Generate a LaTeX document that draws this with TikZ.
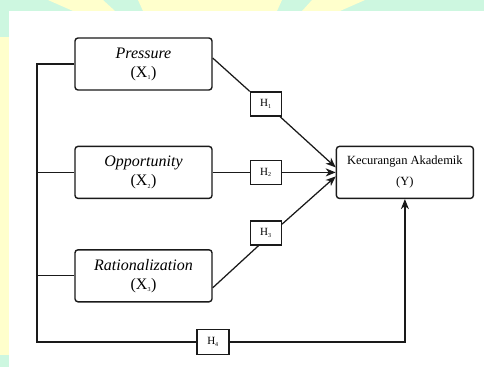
\documentclass[tikz,border=0pt]{standalone}
\usepackage{fontspec}
\setmainfont{Liberation Serif}
\usetikzlibrary{arrows.meta,positioning}
\definecolor{bgmint}{HTML}{CDF7E0}
\definecolor{bgyellow}{HTML}{FFFFCC}
\definecolor{kline}{HTML}{1A1A1A}
\newcommand{\ix}[1]{\textsubscript{\fontsize{6}{6}\selectfont #1}}

\begin{document}
\begin{tikzpicture}[
        x=1pt, y=-1pt,
        var/.style={draw=kline, line width=1.4pt, rounded corners=3pt, fill=white,
                    align=center, minimum width=137pt, minimum height=52pt,
                    inner sep=0pt, font=\fontsize{16}{19}\selectfont},
        dep/.style={var, font=\fontsize{12.5}{21}\selectfont},
        hyp/.style={draw=kline, line width=1.4pt, fill=white, minimum width=31pt,
                    minimum height=24pt, inner sep=0pt, font=\fontsize{11}{13}\selectfont},
        link/.style={kline, line width=1.25pt},
        arr/.style={link, -{Stealth[length=10pt,width=8pt,inset=3pt]}}
    ]
        % page background
        \useasboundingbox (0,0) rectangle (484,367);
        \fill[bgmint] (0,0) rectangle (484,367);
        \fill[bgyellow] (48,0) -- (103,0) -- (115,11) -- (73,11) -- cycle;
        \fill[bgyellow] (138,0) -- (282,0) -- (277,11) -- (143,11) -- cycle;
        \fill[bgyellow] (312,0) -- (365,0) -- (340,11) -- (302,11) -- cycle;
        \fill[bgyellow] (0,37) rectangle (9,355);
        \fill[white] (9,11) rectangle (484,367);

        \node[var] (pres) at (143.5,64) {\textit{Pressure}\\(X\ix{1})};
        \node[var, below=55pt of pres] (opp) {\textit{Opportunity}\\(X\ix{2})};
        \node[var, below=50pt of opp] (rat) {\textit{Rationalization}\\(X\ix{3})};
        \node[dep, right=123pt of opp] (kec) {Kecurangan Akademik\\(Y)};
        \node[hyp, right=37pt of opp] (h2) {H\ix{2}};
        \node[hyp, above=43pt of h2] (h1) {H\ix{1}};
        \node[hyp, below=35pt of h2] (h3) {H\ix{3}};
        \node[hyp, minimum width=32pt, minimum height=25pt] (h4) at (213,342) {H\ix{4}};
        \coordinate (bl) at (37,342);

        \draw[link] ([yshift=6pt]pres.east) -- (h1.north west);
        \draw[arr] ([xshift=-2pt]h1.south east) -- ([yshift=5pt]kec.west);
        \draw[link] (opp.east) -- (h2.west);
        \draw[arr] (h2.east) -- (kec.west);
        \draw[link] ([yshift=-12pt]rat.east) -- ([xshift=9pt]h3.south west);
        \draw[arr] ([yshift=-4pt]h3.north east) -- ([yshift=-4pt]kec.west);
        \draw[link] (pres.west) -| (bl) -- (h4.west);
        \draw[link] (opp.west) -- (opp.west -| bl);
        \draw[link] (rat.west) -- (rat.west -| bl);
        \draw[arr] (h4.east) -| (kec.south);
    \end{tikzpicture}
\end{document}
